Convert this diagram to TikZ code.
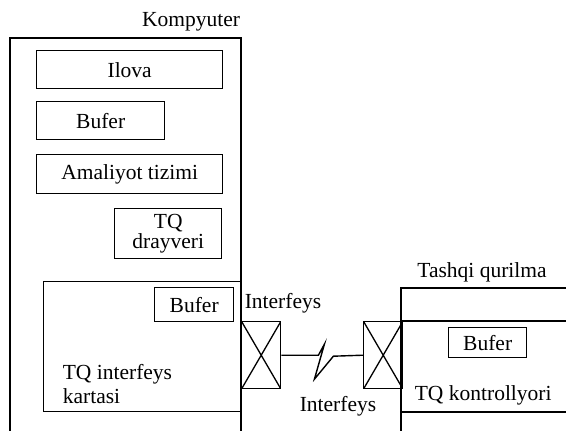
\documentclass[tikz,border=0pt]{standalone}
\usepackage{fontspec}
\setmainfont{Liberation Serif}
\usetikzlibrary{positioning}

\tikzset{
  blok/.style={draw,line width=1.4pt,inner sep=0pt,font=\fontsize{21.5}{22}\selectfont,align=center},
  yozuv/.style={inner sep=0pt,font=\fontsize{21.5}{22}\selectfont},
  xbox/.style={draw,line width=1.4pt,inner sep=0pt,minimum width=39pt,minimum height=67pt,
    path picture={\draw[line width=1.3pt] (path picture bounding box.north west) -- (path picture bounding box.south east)
      (path picture bounding box.south west) -- (path picture bounding box.north east);}}
}

\begin{document}
\begin{tikzpicture}[x=1pt,y=-1pt,line width=1.7pt]
\useasboundingbox (0,0) rectangle (566,431);
% kompyuter
\draw (10,431) -- (10,38) -- (241,38) -- (241,431);
\node[yozuv] (komp) at (191,22) {Kompyuter};
\node[blok,anchor=north west,minimum width=186pt,minimum height=38pt] (ilova) at (36,50) {Ilova};
\node[blok,anchor=north west,minimum width=128pt,minimum height=38pt] (bufer1) at (36,101) {Bufer};
\node[blok,anchor=north west,minimum width=186pt,minimum height=39pt] (amal) at (36,154) {Amaliyot tizimi};
\node[blok,anchor=north west,minimum width=107pt,minimum height=50pt] (drayv) at (114,208) {TQ\\[-2pt]drayveri};
% interfeys kartasi
\node[blok,anchor=north west,minimum width=198pt,minimum height=130pt] (karta) at (43,281) {};
\node[blok,anchor=north west,minimum width=79pt,minimum height=34pt] (bufer2) at (154,287) {Bufer};
\node[yozuv,anchor=north west,align=left] (kartatxt) at (62,364) {TQ interfeys\\[2pt]kartasi};
% interfeys
\node[xbox,anchor=north west] (ix1) at (241,321) {};
\node[xbox,anchor=north west] (ix2) at (363,321) {};
\node[yozuv] (if1) at (283,303) {Interfeys};
\node[yozuv] (if2) at (338,406) {Interfeys};
\draw[line width=1.4pt] (ix1.east) -- ++(37,0) -- ++(6,-11) -- ++(-10,35) -- ++(19,-23) -- (ix2.west);
% tashqi qurilma
\draw (401,431) -- (401,288) -- (566,288);
\draw[line width=1.4pt] (401,321) -- (566,321);
\draw[line width=1.4pt] (401,412) -- (566,412);
\node[yozuv] (tashqi) at (482,272) {Tashqi qurilma};
\node[blok,anchor=north west,minimum width=78pt,minimum height=30pt] (bufer3) at (448,327) {Bufer};
\node[yozuv,anchor=west] (kontr) at (414,395) {TQ kontrollyori};
\end{tikzpicture}
\end{document}
